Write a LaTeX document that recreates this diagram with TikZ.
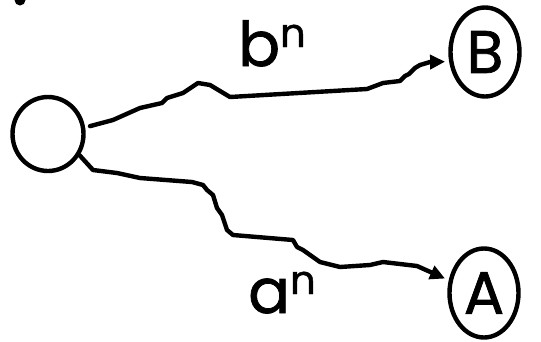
\documentclass[tikz,border=0pt]{standalone}
\usepackage{fontspec}
\setmainfont{Poppins}
\newfontfamily\heavy[FakeBold=1.2]{Poppins}
\usetikzlibrary{shapes.geometric,arrows.meta}
\tikzset{
  state/.style={ellipse,draw,line width=4.4pt,inner sep=0pt},
  wiggle/.style={line width=4.4pt,line join=round,line cap=round,
    -{Triangle[length=15pt,width=14pt]}},
  lbl/.style={inner sep=0pt,anchor=base west,font=\heavy\fontsize{62}{62}\selectfont}
}
\newcommand{\supn}{\raisebox{19pt}{\fontsize{40}{40}\selectfont n}}
\begin{document}
\begin{tikzpicture}[x=1pt,y=-1pt]
\useasboundingbox (0,0) rectangle (541,341);
\clip (0,0) rectangle (541,341);
\fill (20,0) circle (5.5);
\node[state,minimum width=71pt,minimum height=74pt] (o) at (48,134) {};
\node[state,minimum width=69pt,minimum height=89pt,font=\heavy\fontsize{60}{60}\selectfont] (B) at (485,52) {B};
\node[state,minimum width=69pt,minimum height=89pt,font=\heavy\fontsize{60}{60}\selectfont] (A) at (484,293) {A};
\node[lbl] (bn) at (238,66) {b\supn};
\node[lbl] (an) at (248,313) {a\supn};
\draw[wiggle,shorten <=5pt,shorten >=4pt] (o.10) -- (113,120) -- (140,108) -- (162,103) -- (167,98) -- (183,93) -- (198,83) -- (210,85) -- (230,97) -- (367,89) -- (383,83) -- (400,81) -- (405,76) -- (409,74) -- (415,68) -- (420,65) -- (430,62) -- (B.195);
\draw[wiggle,shorten >=4pt] (o.-34) -- (93,170) -- (117,173) -- (140,178) -- (192,182) -- (203,185) -- (207,190) -- (213,195) -- (217,208) -- (222,215) -- (227,230) -- (233,235) -- (293,240) -- (297,247) -- (303,250) -- (320,262) -- (340,267) -- (370,265) -- (383,262) -- (417,266) -- (A.160);
\end{tikzpicture}
\end{document}
